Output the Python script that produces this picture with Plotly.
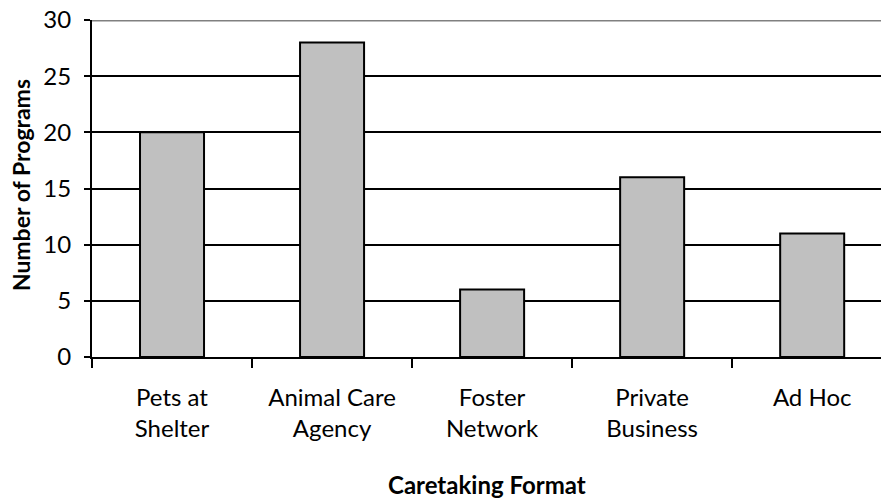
import plotly.graph_objects as go

categories = ["Pets at<br>Shelter", "Animal Care<br>Agency", "Foster<br>Network", "Private<br>Business", "Ad Hoc"]
values = [20, 28, 6, 16, 11]
y_ticks = [0, 5, 10, 15, 20, 25, 30]

FONT = "Lato"

fig = go.Figure(
    go.Bar(
        x=categories,
        y=values,
        width=0.4,
        marker=dict(color="#C0C0C0", line=dict(color="black", width=2)),
        hoverinfo="skip",
    )
)

fig.update_layout(
    width=881,
    height=498,
    margin=dict(l=92, r=0, t=20, b=141, autoexpand=False),
    paper_bgcolor="white",
    plot_bgcolor="white",
    font=dict(family=FONT, size=24, color="black"),
    showlegend=False,
)

fig.update_xaxes(
    range=[-0.5, 4.43],
    showline=True,
    linecolor="black",
    linewidth=2,
    ticks="outside",
    tickson="boundaries",
    ticklen=9,
    tickwidth=2,
    tickcolor="black",
    showgrid=False,
    tickfont=dict(size=24),
    ticklabelstandoff=18,
    automargin=False,
)

fig.update_yaxes(
    range=[0, 30],
    tickvals=y_ticks,
    showline=True,
    linecolor="black",
    linewidth=2,
    ticks="outside",
    ticklen=6,
    tickwidth=2,
    tickcolor="black",
    showgrid=True,
    gridcolor="black",
    gridwidth=2,
    zeroline=False,
    tickfont=dict(size=24),
    ticklabelstandoff=8,
    automargin=False,
)

# gray top border line at the top of the value range
fig.add_shape(type="line", xref="paper", yref="y", x0=0, x1=1, y0=30, y1=30,
              line=dict(color="#808080", width=3), layer="above")

fig.add_annotation(text="<b>Number of Programs</b>", xref="paper", yref="paper",
                   x=-0.09, y=0.51, xanchor="center", yanchor="middle",
                   textangle=-90, showarrow=False, font=dict(size=23))
fig.add_annotation(text="<b>Caretaking Format</b>", xref="paper", yref="paper",
                   x=0.5, y=-0.378, xanchor="center", yanchor="middle",
                   showarrow=False, font=dict(size=24))

fig.write_html(
    "out.html",
    config={"displayModeBar": False},
    post_script="document.body.style.margin='0';document.body.style.padding='0';",
)
